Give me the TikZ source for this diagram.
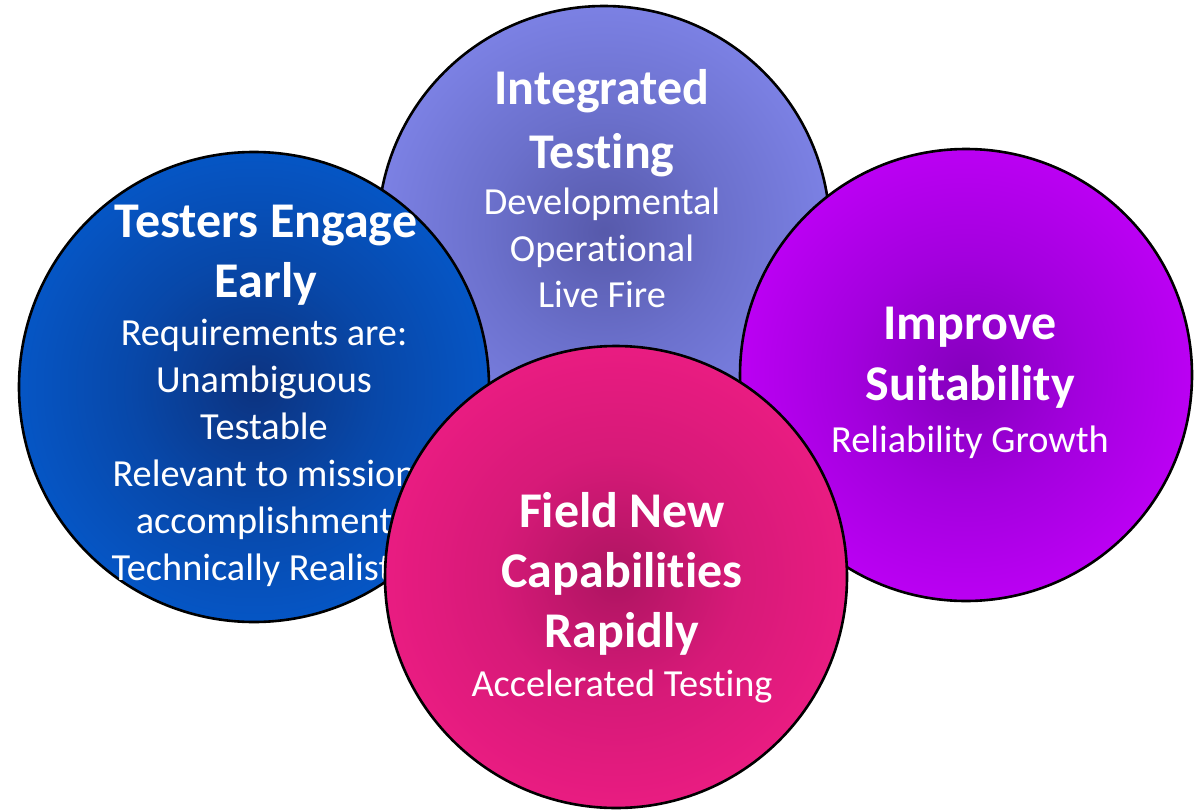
\documentclass[tikz,border=0pt]{standalone}
\usepackage{fontspec}
\setmainfont{Carlito}[Ligatures={NoCommon,NoDiscretionary}]
\pgfdeclareradialshading{lavsh}{\pgfpoint{0bp}{0bp}}{rgb(0bp)=(0.34,0.35,0.67); rgb(13bp)=(0.42,0.44,0.80); rgb(26bp)=(0.49,0.51,0.90); rgb(50bp)=(0.50,0.52,0.91)}
\pgfdeclareradialshading{bluesh}{\pgfpoint{0bp}{0bp}}{rgb(0bp)=(0.05,0.20,0.50); rgb(13bp)=(0.03,0.28,0.66); rgb(26bp)=(0.02,0.34,0.78); rgb(50bp)=(0.02,0.36,0.80)}
\pgfdeclareradialshading{purpsh}{\pgfpoint{0bp}{0bp}}{rgb(0bp)=(0.52,0.00,0.74); rgb(13bp)=(0.64,0.00,0.87); rgb(26bp)=(0.74,0.00,0.96); rgb(50bp)=(0.76,0.00,0.97)}
\pgfdeclareradialshading{pinksh}{\pgfpoint{0bp}{0bp}}{rgb(0bp)=(0.68,0.08,0.38); rgb(13bp)=(0.84,0.10,0.47); rgb(26bp)=(0.92,0.11,0.51); rgb(50bp)=(0.93,0.12,0.52)}
\begin{document}
\begin{tikzpicture}[x=1pt,y=-1pt,
  bubble/.style={circle,draw=black,line width=2.6pt,inner sep=0pt},
  ttl/.style={text=white,font=\fontsize{50}{60}\selectfont\bfseries,anchor=base,inner sep=0pt},
  bdy/.style={text=white,font=\fontsize{38.3}{46}\selectfont,anchor=base,inner sep=0pt}]
\useasboundingbox[fill=white] (0,0) rectangle (1194,811);
% Integrated Testing
\node[bubble,shading=lavsh,minimum size=452pt] (lav) at (604,232) {};
\node[ttl] (lavt1) at (602,104) {Integrated};
\node[ttl] (lavt2) at (602,168) {Testing};
\node[bdy] (lavb1) at (602,214) {Developmental};
\node[bdy] (lavb2) at (602,261) {Operational};
\node[bdy] (lavb3) at (602,307) {Live Fire};
% Testers Engage Early
\node[bubble,shading=bluesh,minimum size=470pt] (blue) at (254,387) {};
\node[ttl] (bluet1) at (266,237) {Testers Engage};
\node[ttl] (bluet2) at (266,297) {Early};
\node[bdy] (blueb1) at (264,345) {Requirements are:};
\node[bdy] (blueb2) at (264,392) {Unambiguous};
\node[bdy] (blueb3) at (264,439) {Testable};
\node[bdy] (blueb4) at (264,486) {Relevant to mission};
\node[bdy] (blueb5) at (264,533) {accomplishment};
\node[bdy] (blueb6) at (264,580) {Technically Realistic};
% Improve Suitability
\node[bubble,shading=purpsh,minimum size=452pt] (purp) at (966,375) {};
\node[ttl] (purpt1) at (970,339) {Improve};
\node[ttl] (purpt2) at (970,400) {Suitability};
\node[bdy] (purpb1) at (970,452) {Reliability Growth};
% Field New Capabilities Rapidly
\node[bubble,shading=pinksh,minimum size=462pt] (pink) at (616,577) {};
\node[ttl] (pinkt1) at (622,527) {Field New};
\node[ttl] (pinkt2) at (622,587) {Capabilities};
\node[ttl] (pinkt3) at (622,647) {Rapidly};
\node[bdy] (pinkb1) at (622,696) {Accelerated Testing};
\end{tikzpicture}
\end{document}
